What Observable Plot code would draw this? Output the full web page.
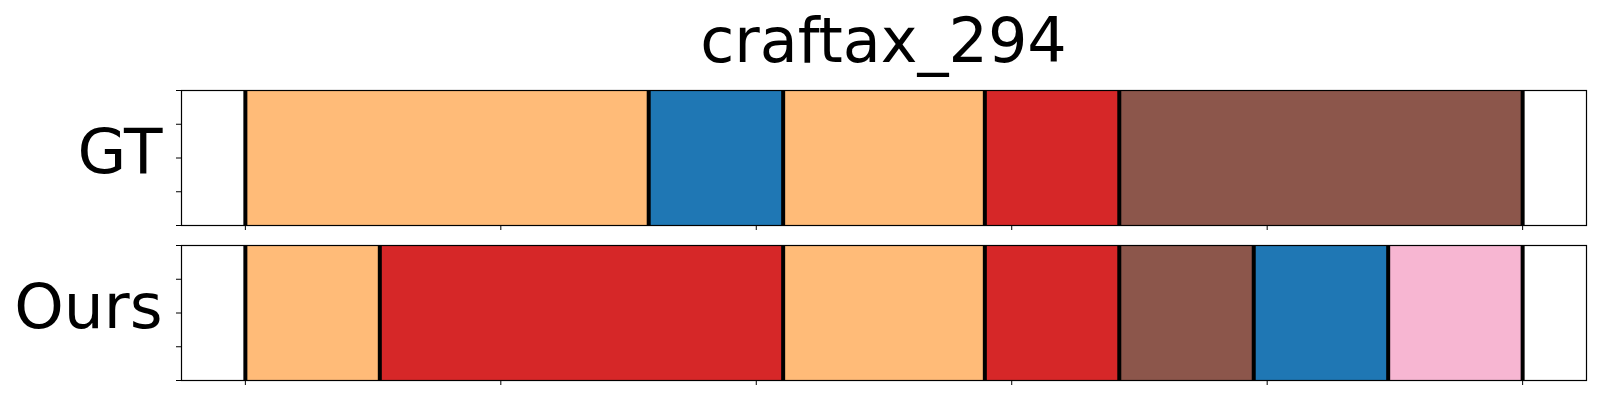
<!DOCTYPE html>
<html>
<head>
<meta charset="utf-8">
<script src="https://cdn.jsdelivr.net/npm/d3@7"></script>
<script src="https://cdn.jsdelivr.net/npm/@observablehq/plot@0.6"></script>
<style>
  body { margin: 0; background: #fff; font-family: "DejaVu Sans", sans-serif; }
  #wrap { position: relative; width: 1600px; height: 400px; overflow: hidden; }
  #title { position: absolute; left: 181px; width: 1405px; top: 10px; text-align: center;
           font-size: 62px; line-height: 62px; color: #000; }
  .panel { position: absolute; left: 0; }
</style>
</head>
<body>
<div id="wrap">
  <div id="title">craftax_294</div>
  <div id="p1" class="panel" style="top:80px"></div>
  <div id="p2" class="panel" style="top:235px"></div>
</div>
<script>
// ---- data ----
const title = "craftax_294";
const rowNames = ["GT", "Ours"];
const categories = ["A", "B", "C", "D", "E"];
const categoryColors = ["#ffbb78", "#1f77b4", "#d62728", "#8c564b", "#f7b6d2"];
// segments: start, end, category
const gtStarts = [0, 6, 8, 11, 13];
const gtEnds   = [6, 8, 11, 13, 19];
const gtLabels = ["A", "B", "A", "C", "D"];
const oursStarts = [0, 2, 8, 11, 13, 15, 17];
const oursEnds   = [2, 8, 11, 13, 15, 17, 19];
const oursLabels = ["A", "C", "A", "C", "D", "B", "E"];
const xTicks = [0, 3.8, 7.6, 11.4, 15.2, 19];
const yTicks = [0, 0.25, 0.5, 0.75, 1];
const xMax = 19;

function segs(starts, ends, labels) {
  return starts.map((s, i) => ({start: s, end: ends[i], label: labels[i]}));
}

function panel(name, data) {
  const bounds = Array.from(new Set(data.flatMap(d => [d.start, d.end])));
  const pad = xMax * 0.05;
  return Plot.plot({
    width: 1600,
    height: 155,
    marginLeft: 181,
    marginRight: 14,
    marginTop: 10,
    marginBottom: 10,
    style: {fontFamily: "DejaVu Sans, sans-serif", background: "white", overflow: "visible"},
    x: {domain: [-pad, xMax + pad], axis: null},
    y: {domain: [0, 1], axis: null},
    color: {domain: categories, range: categoryColors},
    marks: [
      Plot.rect(data, {x1: "start", x2: "end", y1: () => 0, y2: () => 1, fill: "label"}),
      Plot.ruleX(bounds, {x: d => d, stroke: "black", strokeWidth: 4}),
      Plot.frame({stroke: "black", strokeWidth: 1.2}),
      Plot.axisX(xTicks, {anchor: "bottom", tickSize: 5, tickFormat: () => "", label: null}),
      Plot.axisY(yTicks, {anchor: "left", tickSize: 5, tickFormat: () => "", label: null}),
      Plot.text([name], {text: d => d, frameAnchor: "left", dx: -19, dy: -5, textAnchor: "end",
                         fontSize: 63, fill: "black"})
    ]
  });
}

document.getElementById("title").textContent = title;
document.getElementById("p1").appendChild(panel(rowNames[0], segs(gtStarts, gtEnds, gtLabels)));
document.getElementById("p2").appendChild(panel(rowNames[1], segs(oursStarts, oursEnds, oursLabels)));
</script>
</body>
</html>
